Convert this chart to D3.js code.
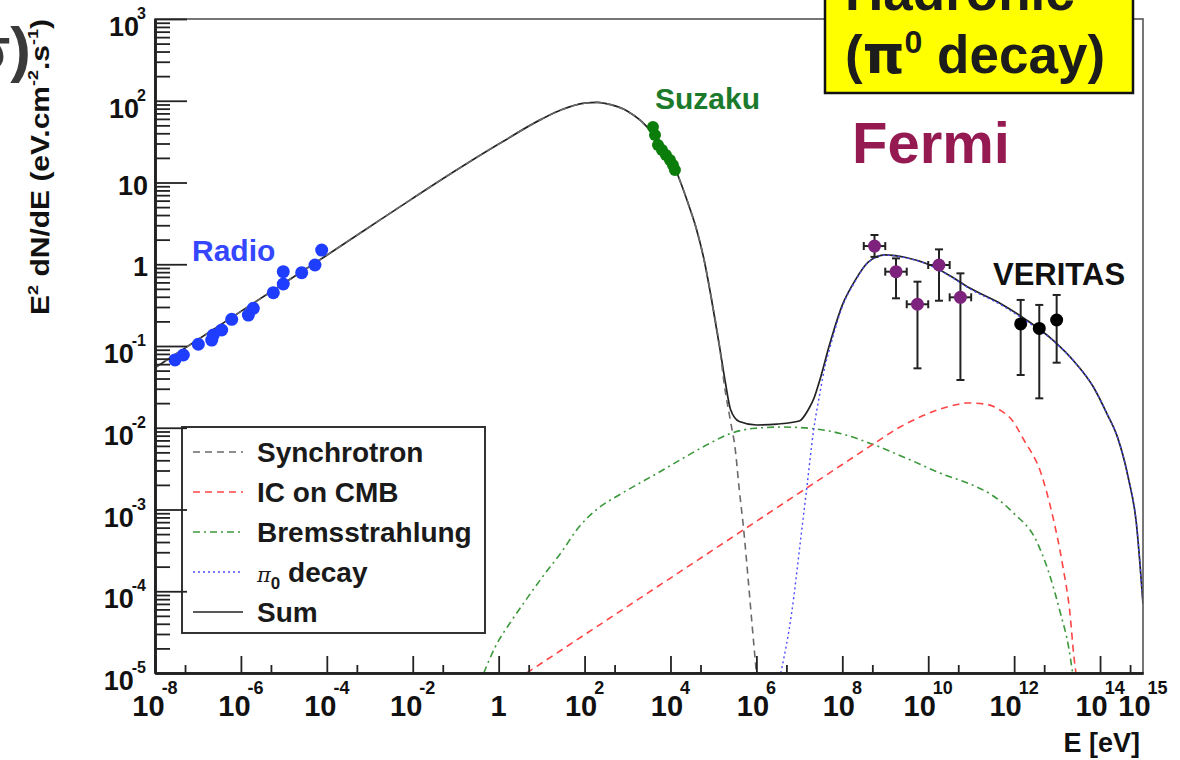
<!DOCTYPE html>
<html>
<head>
<meta charset="utf-8">
<script src="https://cdn.jsdelivr.net/npm/d3@7"></script>
<style>
  body { margin: 0; background: #fff; }
  svg text { font-family: "Liberation Sans", Arial, Helvetica, sans-serif; font-weight: bold; }
</style>
</head>
<body>
<svg id="chart" width="1180" height="760"></svg>
<script>
// ---- Spectral energy distribution: model components [E (eV), E^2 dN/dE (eV cm^-2 s^-1)] ----
const synchrotron = [
  [1e-8, 0.0543], [1e-6, 0.265], [1e-4, 1.29], [1e-3, 2.88], [1e-2, 6.4], [0.1, 14.0],
  [1, 29.5], [10, 59.6], [30, 78], [100, 93.3], [200, 95.5], [300, 92.7], [1000, 74.5],
  [2000, 57.4], [4000, 39.1], [8000, 25.3], [1.5e4, 12.1], [2.5e4, 5.8], [4e4, 2.72],
  [6e4, 1.16], [9e4, 0.376], [1.4e5, 0.0955], [1.8e5, 0.033], [2.5e5, 0.012],
  [3.2e5, 0.0056], [4e5, 0.00174], [5e5, 6.03e-4], [6.5e5, 1.32e-4], [8e5, 3.72e-5], [1e6, 1e-5]
];
const icCmb = [
  [4.5, 1e-5], [100, 2.94e-5], [1e4, 1.45e-4], [1e6, 7.18e-4], [1e8, 3.55e-3], [6e8, 6.6e-3],
  [2.2e9, 0.0102], [6.4e9, 0.0135], [1.87e10, 0.0169], [4.2e10, 0.019], [8e10, 0.0201],
  [2.1e11, 0.0195], [4.67e11, 0.0165], [8.9e11, 0.01245], [1.69e12, 7.08e-3], [4.2e12, 2.8e-3],
  [7.6e12, 9.06e-4], [1.37e13, 1.98e-4], [1.99e13, 5.42e-5], [2.47e13, 1.57e-5], [2.75e13, 1e-5]
];
const bremsstrahlung = [
  [0.45, 1e-5], [0.8, 2.0e-5], [2, 4.37e-5], [4, 7.41e-5], [10, 1.45e-4], [30, 3.09e-4],
  [70, 5.89e-4], [200, 1.02e-3], [700, 1.55e-3], [5000, 2.79e-3], [2e4, 4.27e-3], [7e4, 6.17e-3],
  [2.5e5, 8.51e-3], [8e5, 9.77e-3], [4e6, 1.02e-2], [2e7, 9.77e-3], [9e7, 8.51e-3],
  [3.5e8, 6.76e-3], [3e9, 4.27e-3], [2.5e10, 2.63e-3], [8.5e10, 2.09e-3], [3e11, 1.51e-3],
  [1e12, 8.91e-4], [3.2e12, 4.27e-4], [6.5e12, 1.66e-4], [1.2e13, 5.37e-5], [1.85e13, 2.09e-5],
  [2.3e13, 1e-5]
];
const pi0Decay = [
  [3.7e6, 1e-5], [6.6e6, 5.37e-5], [1.07e7, 4.27e-4], [1.5e7, 1.91e-3], [2.15e7, 9.33e-3],
  [3e7, 0.0263], [4e7, 0.058], [5e7, 0.09], [1e8, 0.303], [2e8, 0.62], [4e8, 1.05], [1e9, 1.29],
  [3e9, 1.2], [1e10, 0.99], [3e10, 0.73], [1e11, 0.49], [5e11, 0.318], [2e12, 0.199],
  [8e12, 0.117], [2.5e13, 0.0645], [7e13, 0.0315], [1.5e14, 0.0143], [2.5e14, 0.0079],
  [4.5e14, 0.0025], [7e14, 6.8e-4], [1e15, 7e-5]
];
const sumModel = [
  [1e-8, 0.0543], [1e-6, 0.265], [1e-4, 1.29], [1e-3, 2.88], [1e-2, 6.4], [0.1, 14.0],
  [1, 29.5], [10, 59.6], [30, 78], [100, 93.3], [200, 95.5], [300, 92.7], [1000, 74.5],
  [2000, 57.4], [4000, 39.1], [8000, 25.3], [1.5e4, 12.1], [2.5e4, 5.8], [4e4, 2.72],
  [6e4, 1.16], [9e4, 0.376], [1.4e5, 0.0955], [1.9e5, 0.0355], [2.5e5, 0.0167],
  [4e5, 0.0119], [1e6, 0.0108], [3e6, 0.0111], [1e7, 0.0121], [1.6e7, 0.0165],
  [2.2e7, 0.0231], [3e7, 0.0384], [5e7, 0.102], [1e8, 0.316], [2e8, 0.637], [4e8, 1.06],
  [1e9, 1.30], [3e9, 1.21], [1e10, 1.0], [3e10, 0.74], [1e11, 0.50], [5e11, 0.327],
  [2e12, 0.206], [8e12, 0.118], [2.5e13, 0.0646], [7e13, 0.0315], [1.5e14, 0.0143],
  [2.5e14, 0.0079], [4.5e14, 0.0025], [7e14, 6.8e-4], [1e15, 7e-5]
];

// ---- Measurements ----
const radioE = [2.92e-8, 4.56e-8, 1.02e-7, 2.09e-7, 2.28e-7, 3.57e-7, 6.10e-7, 1.49e-6,
                1.94e-6, 5.68e-6, 9.68e-6, 9.68e-6, 2.60e-5, 5.30e-5, 7.59e-5];
const radioF = [0.0675, 0.0776, 0.105, 0.118, 0.136, 0.157, 0.212, 0.239,
                0.289, 0.449, 0.573, 0.811, 0.789, 0.979, 1.49];
const suzakuE = [3.91e3, 4.36e3, 5.12e3, 6.34e3, 7.85e3, 9.72e3, 1.14e4, 1.27e4];
const suzakuF = [47.8, 38.1, 28.8, 25.0, 21.7, 18.8, 16.4, 14.2];
const fermiE    = [5.62e8, 1.78e9, 5.62e9, 1.78e10, 5.62e10];
const fermiElo  = [3.16e8, 1.0e9, 3.16e9, 1.0e10, 3.16e10];
const fermiEhi  = [1.0e9, 3.16e9, 1.0e10, 3.16e10, 1.0e11];
const fermiF    = [1.67, 0.811, 0.324, 0.979, 0.394];
const fermiFlo  = [1.23, 0.383, 0.0533, 0.358, 0.0384];
const fermiFhi  = [2.28, 1.18, 0.612, 1.52, 0.774];
const veritasE   = [1.42e12, 3.85e12, 9.77e12];
const veritasF   = [0.186, 0.164, 0.208];
const veritasFlo = [0.0442, 0.0229, 0.0625];
const veritasFhi = [0.366, 0.318, 0.421];

// ---- Axis labels ----
const xLabelValues = [1e-8, 1e-6, 1e-4, 1e-2, 1, 1e2, 1e4, 1e6, 1e8, 1e10, 1e12, 1e14, 1e15];
const yLabelValues = [1e3, 1e2, 10, 1, 1e-1, 1e-2, 1e-3, 1e-4, 1e-5];
const legendEntries = ["Synchrotron", "IC on CMB", "Bremsstrahlung", "π0 decay", "Sum"];

// ---- Layout ----
const frame = { left: 155, right: 1143, top: 19, bottom: 673 };
const svg = d3.select("#chart");
svg.append("rect").attr("width", 1180).attr("height", 760).attr("fill", "#fff");

const x = d3.scaleLog().domain([1e-8, 1e15]).range([frame.left, frame.right]);
const y = d3.scaleLog().domain([1e-5, 1e3]).range([frame.bottom, frame.top]);

svg.append("defs").append("clipPath").attr("id", "plotClip")
  .append("rect").attr("x", frame.left).attr("y", frame.top)
  .attr("width", frame.right - frame.left).attr("height", frame.bottom - frame.top);

// Legend box (drawn first so the axis ticks stay visible across its border)
const legendBox = { x: 182, y: 427, w: 303, h: 206, row0: 452, step: 40 };
const legend = svg.append("g");
legend.append("rect").attr("x", legendBox.x).attr("y", legendBox.y)
  .attr("width", legendBox.w).attr("height", legendBox.h)
  .attr("fill", "#fff").attr("stroke", "#333").attr("stroke-width", 2);

// ---- Model curves ----
const styles = {
  sync:  { color: "#6a6a6a", dash: "7,5",     width: 1.6 },
  ic:    { color: "#ff4545", dash: "7,5",     width: 1.6 },
  brems: { color: "#3c983c", dash: "7,4,2,4", width: 1.6 },
  pi0:   { color: "#4a4aff", dash: "2,3",     width: 1.4 },
  sum:   { color: "#222",    dash: null,      width: 1.7 }
};
const line = d3.line().x(d => x(d[0])).y(d => y(d[1])).curve(d3.curveMonotoneX);
const curves = svg.append("g").attr("clip-path", "url(#plotClip)").attr("fill", "none");
function drawCurve(data, st) {
  const p = curves.append("path").attr("d", line(data))
    .attr("stroke", st.color).attr("stroke-width", st.width);
  if (st.dash) p.attr("stroke-dasharray", st.dash);
}
drawCurve(bremsstrahlung, styles.brems);
drawCurve(icCmb, styles.ic);
drawCurve(sumModel, styles.sum);
drawCurve(synchrotron, styles.sync);
drawCurve(pi0Decay, styles.pi0);

// ---- Data points ----
const pts = svg.append("g");
pts.selectAll("circle.radio").data(radioE).join("circle")
  .attr("cx", d => x(d)).attr("cy", (d, i) => y(radioF[i])).attr("r", 6.5).attr("fill", "#1f3dff");
pts.selectAll("circle.suzaku").data(suzakuE).join("circle")
  .attr("cx", d => x(d)).attr("cy", (d, i) => y(suzakuF[i])).attr("r", 6).attr("fill", "#0b7d0b");

const bars = svg.append("g").attr("stroke", "#222").attr("stroke-width", 2);
const cap = 4;
fermiE.forEach((e, i) => {
  const cx = x(e), cy = y(fermiF[i]);
  const x0 = x(fermiElo[i]), x1 = x(fermiEhi[i]);
  const y0 = y(fermiFlo[i]), y1 = y(fermiFhi[i]);
  bars.append("line").attr("x1", cx).attr("x2", cx).attr("y1", y0).attr("y2", y1);
  bars.append("line").attr("x1", x0).attr("x2", x1).attr("y1", cy).attr("y2", cy);
  [y0, y1].forEach(v => bars.append("line").attr("x1", cx - cap).attr("x2", cx + cap).attr("y1", v).attr("y2", v));
  [x0, x1].forEach(v => bars.append("line").attr("x1", v).attr("x2", v).attr("y1", cy - cap).attr("y2", cy + cap));
});
veritasE.forEach((e, i) => {
  const cx = x(e);
  const y0 = y(veritasFlo[i]), y1 = y(veritasFhi[i]);
  bars.append("line").attr("x1", cx).attr("x2", cx).attr("y1", y0).attr("y2", y1);
  [y0, y1].forEach(v => bars.append("line").attr("x1", cx - cap).attr("x2", cx + cap).attr("y1", v).attr("y2", v));
});
pts.raise();
svg.append("g").selectAll("circle").data(fermiE).join("circle")
  .attr("cx", d => x(d)).attr("cy", (d, i) => y(fermiF[i])).attr("r", 6.5).attr("fill", "#7d237d");
svg.append("g").selectAll("circle").data(veritasE).join("circle")
  .attr("cx", d => x(d)).attr("cy", (d, i) => y(veritasF[i])).attr("r", 6.5).attr("fill", "#000");

// ---- Frame and axes (ticks pointing inward) ----
svg.append("rect").attr("x", frame.left).attr("y", frame.top)
  .attr("width", frame.right - frame.left).attr("height", frame.bottom - frame.top)
  .attr("fill", "none").attr("stroke", "#555").attr("stroke-width", 1.6);

const isPow10 = v => Math.abs(Math.log10(v) - Math.round(Math.log10(v))) < 1e-9;
const xMajor = x.ticks();
const xMinor = xMajor.filter(v => v < 1e15).map(v => v * 5);
const yAll = y.ticks();
const yMajor = yAll.filter(isPow10);
const yMinor = yAll.filter(v => !isPow10(v));

function styleAxis(g) {
  g.selectAll("text").remove();
  g.selectAll("line").attr("stroke", "#222").attr("stroke-width", 1.8);
  g.select(".domain").attr("stroke", "#222").attr("stroke-width", 2.6);
}
svg.append("g").attr("transform", `translate(0,${frame.bottom})`)
  .call(d3.axisBottom(x).tickValues(xMinor).tickSizeInner(-8).tickSizeOuter(0)).call(styleAxis);
svg.append("g").attr("transform", `translate(0,${frame.bottom})`)
  .call(d3.axisBottom(x).tickValues(xMajor).tickSizeInner(-17).tickSizeOuter(0)).call(styleAxis);
svg.append("g").attr("transform", `translate(${frame.left},0)`)
  .call(d3.axisLeft(y).tickValues(yMinor).tickSizeInner(-15).tickSizeOuter(0)).call(styleAxis);
svg.append("g").attr("transform", `translate(${frame.left},0)`)
  .call(d3.axisLeft(y).tickValues(yMajor).tickSizeInner(-32).tickSizeOuter(0)).call(styleAxis);

// Power-of-ten labels: "10" with a raised exponent
function powerLabel(t, v, baseSize, expSize, expDx, expDy) {
  const p = Math.round(Math.log10(v));
  if (p === 0) { t.text("1"); return; }
  if (p === 1) { t.text("10"); return; }
  t.append("tspan").text("10").attr("font-size", baseSize);
  t.append("tspan").text(String(p)).attr("font-size", expSize)
    .attr("dx", expDx).attr("dy", expDy);
}
const xLab = svg.append("g").attr("fill", "#111");
xLabelValues.forEach(v => {
  const t = xLab.append("text").attr("x", x(v)).attr("y", 716)
    .attr("text-anchor", "middle").attr("font-size", 29);
  powerLabel(t, v, 29, 18, -3, -22);
});
const yLab = svg.append("g").attr("fill", "#111");
yLabelValues.forEach(v => {
  const p = Math.round(Math.log10(v));
  const plain = (p === 0 || p === 1);
  const t = yLab.append("text").attr("x", plain ? 148 : 146)
    .attr("y", y(v) + (plain ? 12 : 17))
    .attr("text-anchor", "end").attr("font-size", 27);
  powerLabel(t, v, 27, 16, -2, -17);
});

// Axis titles
const yTitle = svg.append("text")
  .attr("transform", `translate(49,${frame.top}) rotate(-90) scale(1.2,1)`)
  .attr("text-anchor", "end").attr("font-size", 25).attr("fill", "#111");
yTitle.append("tspan").text("E");
yTitle.append("tspan").text("2").attr("font-size", 15).attr("dy", -11);
yTitle.append("tspan").text(" dN/dE (eV.cm").attr("dy", 11);
yTitle.append("tspan").text("-2").attr("font-size", 15).attr("dy", -11);
yTitle.append("tspan").text(".s").attr("dy", 11);
yTitle.append("tspan").text("-1").attr("font-size", 15).attr("dy", -11);
yTitle.append("tspan").text(")").attr("dy", 11);

svg.append("text").attr("x", 1140).attr("y", 752).attr("text-anchor", "end")
  .attr("font-size", 27).attr("fill", "#111").text("E [eV]");

// ---- Legend rows ----
const legendStyles = [styles.sync, styles.ic, styles.brems, styles.pi0, styles.sum];
legendEntries.forEach((name, i) => {
  const cy = legendBox.row0 + i * legendBox.step;
  const st = legendStyles[i];
  const l = legend.append("line").attr("x1", 193).attr("x2", 243).attr("y1", cy).attr("y2", cy)
    .attr("stroke", st.color).attr("stroke-width", st.width);
  if (st.dash) l.attr("stroke-dasharray", st.dash);
  const t = legend.append("text").attr("x", 257).attr("y", cy + 10)
    .attr("font-size", 28).attr("fill", "#1a1a1a");
  if (name.startsWith("π")) {
    t.append("tspan").text("π").attr("font-family", "'DejaVu Serif', serif")
      .attr("font-style", "italic").attr("font-weight", "normal").attr("font-size", 21);
    t.append("tspan").text("0").attr("font-size", 17).attr("dy", 7);
    t.append("tspan").text(" decay").attr("dy", -7);
  } else {
    t.text(name);
  }
});

// ---- Instrument labels ----
svg.append("text").attr("x", 192).attr("y", 261).attr("font-size", 30).attr("fill", "#3447ff").text("Radio");
svg.append("text").attr("x", 655).attr("y", 109).attr("font-size", 30).attr("fill", "#1b7a2b").text("Suzaku");
svg.append("text").attr("x", 993).attr("y", 285).attr("font-size", 31).attr("fill", "#111").text("VERITAS");
svg.append("text").attr("x", 852).attr("y", 163).attr("font-size", 58).attr("fill", "#961a52").text("Fermi");

// ---- Hadronic annotation box ----
svg.append("rect").attr("x", 825).attr("y", -10).attr("width", 308).attr("height", 103)
  .attr("fill", "#ffff00").attr("stroke", "#111").attr("stroke-width", 2.5);
svg.append("text").attr("x", 845).attr("y", 10).attr("font-size", 53).attr("fill", "#1c1c1c").text("Hadronic");
const pi0Title = svg.append("text").attr("x", 845).attr("y", 73).attr("font-size", 53).attr("fill", "#1c1c1c");
pi0Title.append("tspan").text("(");
pi0Title.append("tspan").text("π").attr("font-family", "'DejaVu Sans', sans-serif");
pi0Title.append("tspan").text("0").attr("font-size", 32).attr("dy", -20);
pi0Title.append("tspan").text(" decay)").attr("dy", 20);

// Fragment of a neighbouring heading at the top-left corner
svg.append("text").attr("x", 31).attr("y", 70).attr("text-anchor", "end")
  .attr("font-size", 62).attr("fill", "#3a3a3a").text("σ)");
</script>
</body>
</html>
